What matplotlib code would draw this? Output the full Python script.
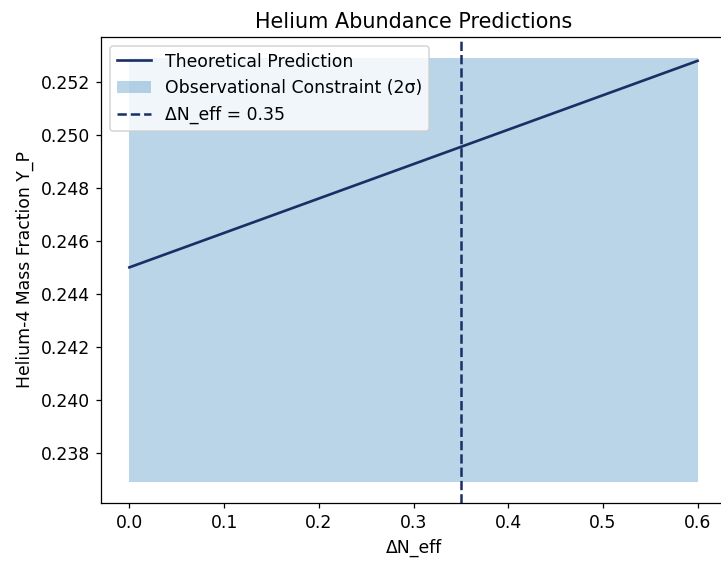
import matplotlib.pyplot as plt
import numpy as np

# data
delta_neff = [0.0, 0.1, 0.2, 0.3, 0.4, 0.5, 0.6]
yp_theory = [0.2450, 0.2463, 0.2476, 0.2489, 0.2502, 0.2515, 0.2528]
yp_low = 0.2369
yp_high = 0.2529
neff_mark = 0.35

plt.rcParams['font.size'] = 11

fig = plt.figure(figsize=(721 / 113, 561 / 113), dpi=113)
ax = fig.add_axes([101 / 721, 1 - 503 / 561, 625 / 721, 466 / 561])

ax.plot(delta_neff, yp_theory, color='#1a2f66', lw=1.7, label='Theoretical Prediction')
ax.fill_between(delta_neff, yp_low, yp_high, color='C0', alpha=0.3, lw=0,
                label='Observational Constraint (2σ)')
ax.axvline(neff_mark, color='#1a2f66', ls='--', lw=1.6, label=f'ΔN_eff = {neff_mark}')

ax.set_xlabel('ΔN_eff')
ax.set_ylabel('Helium-4 Mass Fraction Y_P')
ax.set_title('Helium Abundance Predictions')
ax.set_yticks(np.arange(0.238, 0.2521, 0.002))
ax.legend(loc='upper left')

fig.savefig('out.png', dpi=113)
